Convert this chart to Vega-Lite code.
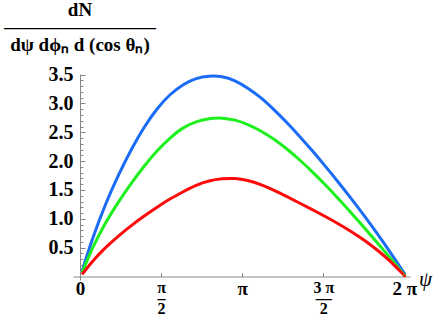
{
  "$schema": "https://vega.github.io/schema/vega-lite/v6.json",
  "width": 337,
  "height": 206,
  "autosize": {"type": "none"},
  "padding": {"left": 73, "top": 74, "right": 26, "bottom": 36},
  "background": "white",
  "config": {"view": {"stroke": null}, "font": "Liberation Serif"},
  "title": {
    "text": ["dN", "————————", "dψ dϕₙ d (cos θₙ)"],
    "anchor": "start",
    "align": "center",
    "dx": 7,
    "frame": "group",
    "font": "Liberation Serif",
    "fontSize": 19,
    "fontWeight": "bold",
    "color": "black",
    "lineHeight": 17.5,
    "baseline": "alphabetic",
    "offset": -5
  },
  "data": {
    "values": [
      {"s": "a", "psi": 0.039, "v": 0.094},
      {"s": "a", "psi": 0.25, "v": 0.674},
      {"s": "a", "psi": 0.5, "v": 1.261},
      {"s": "a", "psi": 0.75, "v": 1.765},
      {"s": "a", "psi": 1.0, "v": 2.209},
      {"s": "a", "psi": 1.25, "v": 2.595},
      {"s": "a", "psi": 1.5, "v": 2.913},
      {"s": "a", "psi": 1.75, "v": 3.155},
      {"s": "a", "psi": 2.0, "v": 3.325},
      {"s": "a", "psi": 2.25, "v": 3.43},
      {"s": "a", "psi": 2.5, "v": 3.472},
      {"s": "a", "psi": 2.75, "v": 3.462},
      {"s": "a", "psi": 3.0, "v": 3.392},
      {"s": "a", "psi": 3.25, "v": 3.265},
      {"s": "a", "psi": 3.5, "v": 3.1},
      {"s": "a", "psi": 3.75, "v": 2.897},
      {"s": "a", "psi": 4.0, "v": 2.673},
      {"s": "a", "psi": 4.25, "v": 2.433},
      {"s": "a", "psi": 4.5, "v": 2.179},
      {"s": "a", "psi": 4.75, "v": 1.914},
      {"s": "a", "psi": 5.0, "v": 1.639},
      {"s": "a", "psi": 5.25, "v": 1.354},
      {"s": "a", "psi": 5.5, "v": 1.059},
      {"s": "a", "psi": 5.75, "v": 0.753},
      {"s": "a", "psi": 6.0, "v": 0.433},
      {"s": "a", "psi": 6.25, "v": 0.098},
      {"s": "a", "psi": 6.276, "v": 0.063},
      {"s": "b", "psi": 0.039, "v": 0.068},
      {"s": "b", "psi": 0.25, "v": 0.505},
      {"s": "b", "psi": 0.5, "v": 0.936},
      {"s": "b", "psi": 0.75, "v": 1.299},
      {"s": "b", "psi": 1.0, "v": 1.624},
      {"s": "b", "psi": 1.25, "v": 1.92},
      {"s": "b", "psi": 1.5, "v": 2.183},
      {"s": "b", "psi": 1.75, "v": 2.405},
      {"s": "b", "psi": 2.0, "v": 2.576},
      {"s": "b", "psi": 2.25, "v": 2.68},
      {"s": "b", "psi": 2.5, "v": 2.735},
      {"s": "b", "psi": 2.75, "v": 2.745},
      {"s": "b", "psi": 3.0, "v": 2.71},
      {"s": "b", "psi": 3.25, "v": 2.634},
      {"s": "b", "psi": 3.5, "v": 2.523},
      {"s": "b", "psi": 3.75, "v": 2.382},
      {"s": "b", "psi": 4.0, "v": 2.214},
      {"s": "b", "psi": 4.25, "v": 2.024},
      {"s": "b", "psi": 4.5, "v": 1.815},
      {"s": "b", "psi": 4.75, "v": 1.59},
      {"s": "b", "psi": 5.0, "v": 1.353},
      {"s": "b", "psi": 5.25, "v": 1.107},
      {"s": "b", "psi": 5.5, "v": 0.853},
      {"s": "b", "psi": 5.75, "v": 0.594},
      {"s": "b", "psi": 6.0, "v": 0.332},
      {"s": "b", "psi": 6.25, "v": 0.064},
      {"s": "b", "psi": 6.276, "v": 0.036},
      {"s": "c", "psi": 0.039, "v": 0.037},
      {"s": "c", "psi": 0.25, "v": 0.271},
      {"s": "c", "psi": 0.5, "v": 0.504},
      {"s": "c", "psi": 0.75, "v": 0.706},
      {"s": "c", "psi": 1.0, "v": 0.887},
      {"s": "c", "psi": 1.25, "v": 1.052},
      {"s": "c", "psi": 1.5, "v": 1.206},
      {"s": "c", "psi": 1.75, "v": 1.347},
      {"s": "c", "psi": 2.0, "v": 1.47},
      {"s": "c", "psi": 2.25, "v": 1.58},
      {"s": "c", "psi": 2.5, "v": 1.655},
      {"s": "c", "psi": 2.75, "v": 1.693},
      {"s": "c", "psi": 3.0, "v": 1.697},
      {"s": "c", "psi": 3.25, "v": 1.663},
      {"s": "c", "psi": 3.5, "v": 1.593},
      {"s": "c", "psi": 3.75, "v": 1.498},
      {"s": "c", "psi": 4.0, "v": 1.389},
      {"s": "c", "psi": 4.25, "v": 1.275},
      {"s": "c", "psi": 4.5, "v": 1.159},
      {"s": "c", "psi": 4.75, "v": 1.04},
      {"s": "c", "psi": 5.0, "v": 0.916},
      {"s": "c", "psi": 5.25, "v": 0.782},
      {"s": "c", "psi": 5.5, "v": 0.633},
      {"s": "c", "psi": 5.75, "v": 0.464},
      {"s": "c", "psi": 6.0, "v": 0.27},
      {"s": "c", "psi": 6.25, "v": 0.048},
      {"s": "c", "psi": 6.276, "v": 0.023}
    ]
  },
  "mark": {"type": "line", "interpolate": "natural", "strokeWidth": 3, "clip": false},
  "encoding": {
    "x": {
      "field": "psi",
      "type": "quantitative",
      "scale": {"domain": [-0.136, 6.392], "nice": false, "zero": false},
      "axis": {
        "values": [0, 1.5707963, 3.1415927, 4.712389, 6.2831853],
        "labelExpr": "datum.value < 0.1 ? '0' : datum.value < 2 ? ['π', '–', '2'] : datum.value < 4 ? 'π' : datum.value < 5 ? ['3 π', '—', '2'] : '2 π'",
        "labelFontSize": {"condition": {"test": "(datum.value > 1 && datum.value < 2) || (datum.value > 4 && datum.value < 5)", "value": 16}, "value": 19},
        "labelFont": "Liberation Serif",
        "labelFontWeight": "bold",
        "labelColor": "black",
        "labelLineHeight": 10.5,
        "labelBaseline": "top",
        "labelAlign": "center",
        "labelPadding": 7,
        "labelOverlap": false,
        "labelFlush": false,
        "offset": -3.5,
        "grid": false,
        "domainColor": "#888888",
        "tickColor": "#888888",
        "tickSize": -4,
        "title": "ψ",
        "titleFont": "Liberation Serif",
        "titleFontStyle": "italic",
        "titleFontWeight": "normal",
        "titleFontSize": 21,
        "titleColor": "black",
        "titleX": 352,
        "titleY": 3,
        "titleAlign": "center",
        "titleBaseline": "middle"
      }
    },
    "y": {
      "field": "v",
      "type": "quantitative",
      "scale": {"domain": [-0.06, 3.51], "nice": false, "zero": false},
      "axis": {
        "values": [0.1, 0.2, 0.3, 0.4, 0.5, 0.6, 0.7, 0.8, 0.9, 1.0, 1.1, 1.2, 1.3, 1.4, 1.5, 1.6, 1.7, 1.8, 1.9, 2.0, 2.1, 2.2, 2.3, 2.4, 2.5, 2.6, 2.7, 2.8, 2.9, 3.0, 3.1, 3.2, 3.3, 3.4, 3.5],
        "labelExpr": "abs(datum.value * 2 - round(datum.value * 2)) < 0.01 ? format(datum.value, '.1f') : ''",
        "tickSize": {"condition": {"test": "abs(datum.value * 2 - round(datum.value * 2)) < 0.01", "value": -5}, "value": -3},
        "labelFont": "Liberation Serif",
        "labelFontWeight": "bold",
        "labelFontSize": 20,
        "labelColor": "black",
        "labelBaseline": "middle",
        "labelPadding": 12,
        "labelOverlap": false,
        "labelFlush": false,
        "offset": -7,
        "grid": false,
        "domainColor": "#888888",
        "tickColor": "#888888",
        "title": null
      }
    },
    "color": {
      "field": "s",
      "type": "nominal",
      "scale": {"domain": ["a", "b", "c"], "range": ["#1a6cf6", "#1ef01e", "#ff0a0a"]},
      "legend": null
    }
  }
}
